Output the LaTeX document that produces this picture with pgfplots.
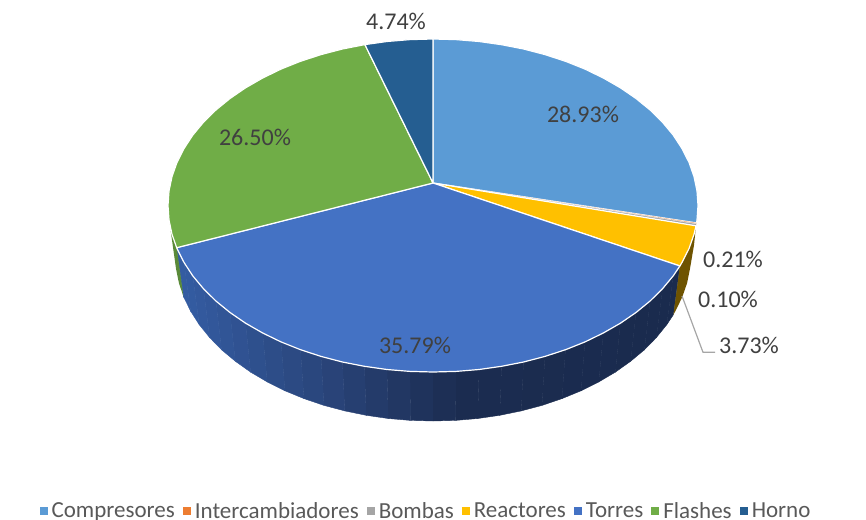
\documentclass[border=0pt]{standalone}
\usepackage{fontspec}
\setmainfont{Carlito}
\usepackage{pgfplots}
\pgfplotsset{compat=1.18}
\definecolor{cComp}{HTML}{5B9BD5}
\definecolor{cInter}{HTML}{ED7D31}
\definecolor{cBomb}{HTML}{A5A5A5}
\definecolor{cReac}{HTML}{FFC000}
\definecolor{cTorr}{HTML}{4472C4}
\definecolor{cFlash}{HTML}{70AD47}
\definecolor{cHorno}{HTML}{255E91}
\definecolor{lab}{HTML}{404040}
\definecolor{leg}{HTML}{595959}
\begin{document}
\begin{tikzpicture}
\path[use as bounding box] (0,0) rectangle (866pt,519pt);
\begin{axis}[
  scale only axis, width=866pt, height=519pt,
  xmin=0, xmax=866, ymin=0, ymax=519, y dir=reverse,
  hide axis, clip=false,
  colormap={wall}{rgb255(0pt)=(52,92,162) rgb255(157pt)=(40,66,118) rgb255(277pt)=(27,44,80) rgb255(497pt)=(26,43,78)},
  point meta min=183, point meta max=680,
  legend columns=7,
  legend cell align=left,
  legend image code/.code={\fill[#1,draw=none] (0pt,-4pt) rectangle (8pt,4pt);},
  legend style={draw=none, fill=none, inner sep=0pt, at={(axis cs:425,520)}, anchor=south,
    font=\fontsize{23}{23}\selectfont, text=leg,
    /tikz/every odd column/.append style={column sep=4pt},
    /tikz/every even column/.append style={column sep=8pt},
    nodes={inner sep=0pt}},
]
% side wall of Torres (top arc, bottom arc)
\addplot[surf, shader=flat, draw=mapped color, mesh/rows=2, mesh/cols=31, point meta=x, forget plot] coordinates {
(679.9,266) (673.2,275.9) (662.5,288.75) (650.1,301) (636,312.5) (620.4,323.2) (603.3,333) (585,341.9) (565.5,349.7) (545,356.4) (523.6,362) (501.6,366.3) (479,369.5) (456.1,371.4) (433,372) (409.9,371.4) (387,369.5) (364.4,366.3) (342.4,362) (321,356.4) (300.5,349.7) (281,341.9) (262.7,333) (245.6,323.2) (230,312.5) (215.9,301) (203.5,288.75) (192.8,275.9) (184,262.4) (177,248.6) (176.7,247.7)

(673.4,314.7) (666.8,324.6) (656.4,337.5) (644.4,349.8) (630.6,361.3) (615.4,372.1) (598.8,381.9) (581,390.8) (562,398.6) (542,405.4) (521.2,410.9) (499.8,415.3) (477.8,418.5) (455.5,420.4) (433,421) (410.5,420.4) (388.2,418.5) (366.2,415.3) (344.8,410.9) (324,405.4) (304,398.6) (285,390.8) (267.2,381.9) (250.6,372.1) (235.4,361.3) (221.6,349.8) (209.6,337.5) (199.2,324.6) (190.6,311.1) (183.8,297.2) (183.4,296.4)
};
% side wall of Reactores
\addplot[fill=black!0!cReac!43!black, draw=none, forget plot] coordinates {
(696,226) (694,234.4) (689,248.6) (682,262.4) (679.9,266) (673.4,314.7) (675.4,311.1) (682.2,297.2) (687.1,283) (690,268.6) (694,245)
} --cycle;
% side wall of Flashes
\addplot[fill=cFlash!80!black, draw=none, forget plot] coordinates {
(176.7,247.7) (172,234.4) (170.7,231) (176,268.6) (178.9,283) (183.4,296.4)
} --cycle;
% top faces
\addplot[fill=cComp, draw=white, line width=1.2pt, line join=round] coordinates {
(433,183) (433,39) (456.1,39.6) (479,41.5) (501.6,44.7) (523.6,49) (545,54.6) (565.5,61.3) (585,69.1) (603.3,78) (620.4,87.8) (636,98.5) (650.1,110) (662.5,122.25) (673.2,135.1) (682,148.6) (689,162.4) (694,176.6) (697,191) (698,205.5) (697,220) (696.5,222.9)
} --cycle;
\addlegendentry{Compresores}
\addplot[fill=cInter, draw=white, line width=0.2pt, line join=round] coordinates {
(433,183) (696.5,222.9) (696.4,223.8)
} --cycle;
\addlegendentry{Intercambiadores}
\addplot[fill=cBomb, draw=white, line width=0.2pt, line join=round] coordinates {
(433,183) (696.4,223.8) (696,225.8)
} --cycle;
\addlegendentry{Bombas}
\addplot[fill=cReac, draw=white, line width=1.2pt, line join=round] coordinates {
(433,183) (696,225.8) (694,234.4) (689,248.6) (682,262.4) (679.9,266)
} --cycle;
\addlegendentry{Reactores}
\addplot[fill=cTorr, draw=white, line width=1.2pt, line join=round] coordinates {
(433,183) (679.9,266) (673.2,275.9) (662.5,288.75) (650.1,301) (636,312.5) (620.4,323.2) (603.3,333) (585,341.9) (565.5,349.7) (545,356.4) (523.6,362) (501.6,366.3) (479,369.5) (456.1,371.4) (433,372) (409.9,371.4) (387,369.5) (364.4,366.3) (342.4,362) (321,356.4) (300.5,349.7) (281,341.9) (262.7,333) (245.6,323.2) (230,312.5) (215.9,301) (203.5,288.75) (192.8,275.9) (184,262.4) (177,248.6) (176.7,247.7)
} --cycle;
\addlegendentry{Torres}
\addplot[fill=cFlash, draw=white, line width=1.2pt, line join=round] coordinates {
(433,183) (176.7,247.7) (172,234.4) (169,220) (168,205.5) (169,191) (172,176.6) (177,162.4) (184,148.6) (192.8,135.1) (203.5,122.25) (215.9,110) (230,98.5) (245.6,87.8) (262.7,78) (281,69.1) (300.5,61.3) (321,54.6) (342.4,49) (364.4,44.7) (364.9,44.6)
} --cycle;
\addlegendentry{Flashes}
\addplot[fill=cHorno, draw=white, line width=1.2pt, line join=round] coordinates {
(433,183) (364.9,44.6) (387,41.5) (409.9,39.6) (433,39)
} --cycle;
\addlegendentry{Horno}
% leader line of 3.73 %
\addplot[color=black!35, line width=1.2pt, forget plot] coordinates {(682,296) (703,352.3) (715,352.3)};
\begin{scope}[every node/.style={text=lab, inner sep=0pt, font=\fontsize{24}{24}\selectfont}]
\node at (axis cs:583,114) {28.93\%};
\node at (axis cs:255,137) {26.50\%};
\node at (axis cs:415,345) {35.79\%};
\node at (axis cs:396,21) {4.74\%};
\node at (axis cs:733,259) {0.21\%};
\node at (axis cs:728,299) {0.10\%};
\node at (axis cs:749,345) {3.73\%};
\end{scope}
\end{axis}
\end{tikzpicture}
\end{document}
